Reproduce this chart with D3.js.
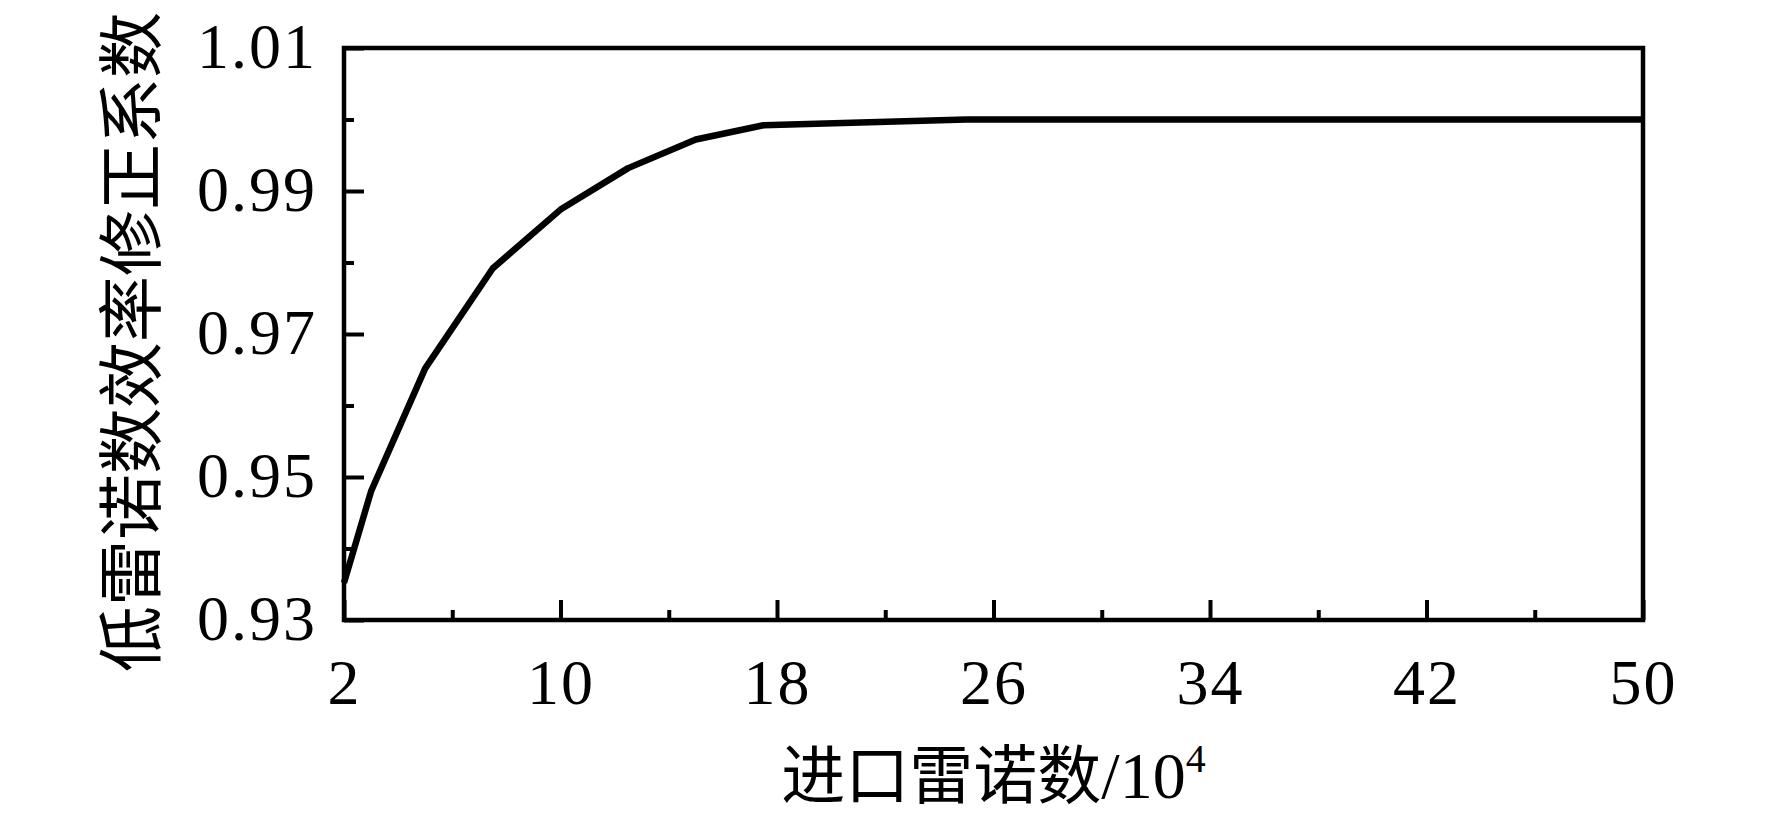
<!DOCTYPE html>
<html>
<head>
<meta charset="utf-8">
<script src="https://d3js.org/d3.v7.min.js"></script>
<style>
  body { margin: 0; background: #fff; }
  svg { display: block; }
</style>
</head>
<body>
<script>
const W = 1772, H = 817
const margin = { left: 344, right: 129, top: 48, bottom: 197 }

// inlet Reynolds number (x10^4) and the low-Re efficiency correction factor
const reynolds = [2, 3, 5, 7.5, 10, 12.5, 15, 17.5, 25, 50]
const correction = [0.9352, 0.948, 0.9652, 0.9792, 0.9874, 0.9932, 0.9972, 0.9992, 1.0, 1.0]

const xTicks = [2, 10, 18, 26, 34, 42, 50]
const xMinor = [6, 14, 22, 30, 38, 46]
const yTicks = [0.93, 0.95, 0.97, 0.99, 1.01]
const yMinor = [0.94, 0.96, 0.98, 1.00]

const yTitle = "低雷诺数效率修正系数"
const xTitle = "进口雷诺数/10"
const xTitleSup = "4"

const serif = "'Liberation Serif', 'Times New Roman', serif"
const cjk = "'Noto Sans CJK SC', sans-serif"

const svg = d3.select("body").append("svg")
  .attr("width", W)
  .attr("height", H)

const pw = W - margin.left - margin.right
const ph = H - margin.top - margin.bottom

const x = d3.scaleLinear().domain([2, 50]).range([0, pw])
const y = d3.scaleLinear().domain([0.93, 1.01]).range([ph, 0])

const g = svg.append("g").attr("transform", `translate(${margin.left},${margin.top})`)

// minor ticks first, no labels
g.append("g")
  .attr("transform", `translate(0,${ph})`)
  .call(d3.axisBottom(x).tickValues(xMinor).tickSize(-10).tickFormat(""))
g.append("g")
  .call(d3.axisLeft(y).tickValues(yMinor).tickSize(-10).tickFormat(""))

const xAxis = g.append("g")
  .attr("transform", `translate(0,${ph})`)
  .call(d3.axisBottom(x).tickValues(xTicks).tickSize(-20).tickPadding(39).tickFormat(d3.format("d")))
const yAxis = g.append("g")
  .call(d3.axisLeft(y).tickValues(yTicks).tickSize(-20).tickPadding(27).tickFormat(d3.format(".2f")))

g.selectAll(".domain").remove()
g.selectAll(".tick line").attr("stroke", "#000").attr("stroke-width", 4)
g.selectAll(".tick text")
  .attr("fill", "#000")
  .style("font-family", serif)
  .style("font-size", "64px")
  .style("letter-spacing", "2px")
yAxis.selectAll(".tick text").attr("dy", "0.3em")

// frame
g.append("rect")
  .attr("width", pw)
  .attr("height", ph)
  .attr("fill", "none")
  .attr("stroke", "#000")
  .attr("stroke-width", 4.5)

// curve
const pts = reynolds.map((r, i) => [r, correction[i]])
g.append("path")
  .datum(pts)
  .attr("fill", "none")
  .attr("stroke", "#000")
  .attr("stroke-width", 6.5)
  .attr("stroke-linejoin", "round")
  .attr("d", d3.line().x(d => x(d[0])).y(d => y(d[1])))

// axis titles
const xt = svg.append("text")
  .attr("x", margin.left + pw / 2)
  .attr("y", 798)
  .attr("text-anchor", "middle")
  .attr("fill", "#000")
xt.append("tspan")
  .style("font-family", cjk)
  .style("font-size", "64px")
  .text(xTitle.slice(0, 5))
xt.append("tspan")
  .style("font-family", serif)
  .style("font-size", "66px")
  .text(xTitle.slice(5))
xt.append("tspan")
  .style("font-family", serif)
  .style("font-size", "40px")
  .attr("dy", "-26")
  .text(xTitleSup)

svg.append("text")
  .attr("transform", `translate(155,${margin.top + ph / 2 + 8}) rotate(-90)`)
  .attr("text-anchor", "middle")
  .attr("fill", "#000")
  .style("font-family", cjk)
  .style("font-size", "66px")
  .text(yTitle)
</script>
</body>
</html>
